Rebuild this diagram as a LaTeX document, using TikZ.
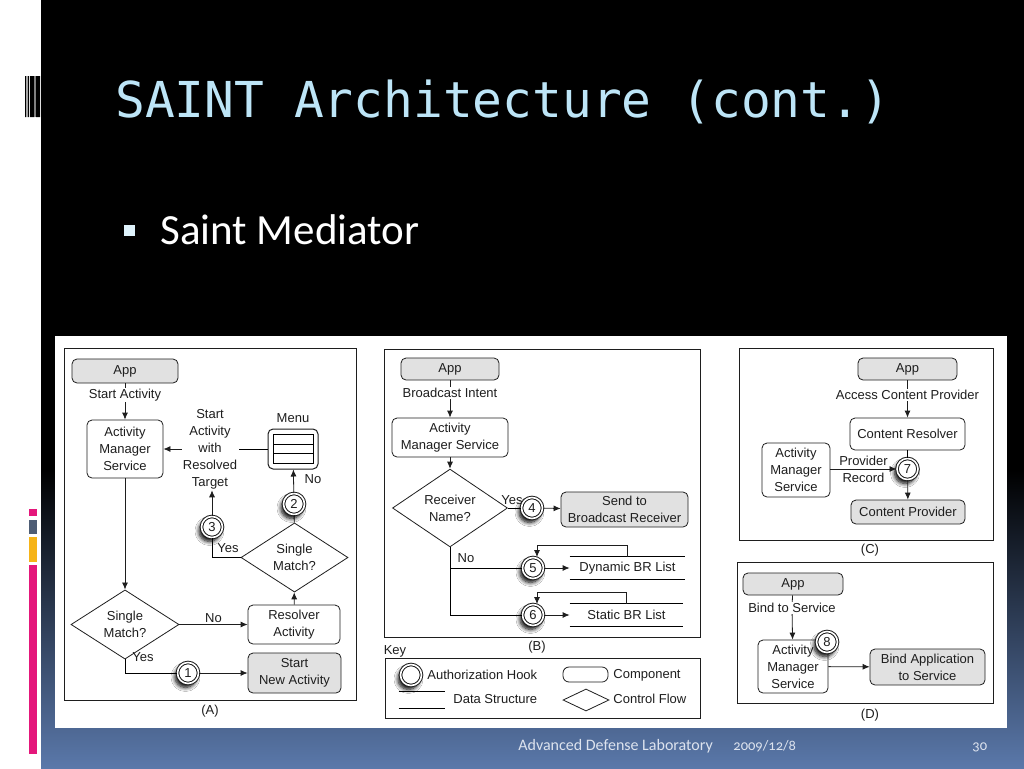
\documentclass[tikz,border=0pt]{standalone}
\usepackage{fontspec}
\setmainfont{Liberation Sans}
\newfontfamily\slidefont{Carlito}
\newfontfamily\titlefont{DejaVu Sans Mono}
\usetikzlibrary{arrows.meta,shapes.geometric,shadows.blur}
\definecolor{titleblue}{HTML}{BDE5F7}
\definecolor{footblue}{HTML}{5A78AA}
\definecolor{foottext}{HTML}{DDE3EE}
\definecolor{barpink}{HTML}{E4177B}
\definecolor{bargray}{HTML}{4E5D75}
\definecolor{baramber}{HTML}{F6B418}
\definecolor{boxgray}{HTML}{E1E1E1}
\definecolor{ink}{HTML}{1E1E1E}
\begin{document}
\begin{tikzpicture}[x=1pt, y=-1pt, line width=0.8pt,
  every node/.style={font=\fontsize{13}{17}\selectfont, text=ink, inner sep=1pt},
  dims/.style 2 args={minimum width=#1pt, minimum height=#2pt},
  comp/.style={draw=ink, rounded corners=5pt, align=center},
  app/.style={comp, fill=boxgray},
  decide/.style={draw=ink, diamond, inner sep=0pt, align=center},
  hook/.style={circle, draw=ink, fill=white, line width=1pt, double=white, double distance=1.6pt, minimum size=21pt, inner sep=0pt,
    blur shadow={shadow xshift=-2.5pt, shadow yshift=-4pt, shadow blur radius=4pt, shadow blur steps=8, shadow opacity=100}},
  flow/.style={draw=ink, -{Latex[length=7pt,width=6pt]}},
  panel/.style={draw=ink, line width=1pt},
  foot/.style={anchor=base west, inner sep=0pt, text=foottext, font=\slidefont\fontsize{14.5}{16}\selectfont}]
\useasboundingbox (0,0) rectangle (1024,768);

% slide background
\fill[white] (0,0) rectangle (1024,768);
\fill[black] (41,0) rectangle (1024,768);
\shade[top color=black, bottom color=footblue] (41,470) rectangle (1024,768);
\fill[black] (25,76) rectangle (26.3,117) (27.7,76) rectangle (29,117) (30,76) rectangle (34.3,117) (36,76) rectangle (40,117);
\fill[gray] (34.3,76) rectangle (36,117);
\fill[barpink] (28.7,509) rectangle (36.7,516);
\fill[bargray] (28.7,520) rectangle (36.7,534);
\fill[baramber] (28.7,537) rectangle (36.7,562);
\fill[barpink] (28.7,565) rectangle (36.7,754);

\node[anchor=base west, inner sep=0pt, text=titleblue, font=\titlefont\fontsize{49.5}{52}\selectfont] (title) at (115,117) {SAINT Architecture (cont.)};
\node[fill=titleblue!50!white, minimum size=11pt, inner sep=0pt] (bullet) at (129.5,230) {};
\node[anchor=base west, inner sep=0pt, text=white, font=\slidefont\fontsize{43}{46}\selectfont] (item) at (160,244) {Saint Mediator};

\fill[white] (55,336) rectangle (1007,728);

% (A) start activity
\draw[panel] (64,348) rectangle (356,700);
\node (capA) at (210,711) {(A)};
\node[app, dims={106}{24}] (appA) at (125,371) {App};
\node (startA) at (125,395) {Start Activity};
\node[comp, dims={76}{58}] (amsA) at (125,449) {Activity\\Manager\\Service};
\node[decide, dims={108}{51}] (decA1) at (125,624.5) {Single\\Match?};
\node[comp, dims={92}{39}] (resA) at (294,624.5) {Resolver\\Activity};
\node[app, dims={93}{40}] (newA) at (294.5,673) {Start\\New Activity};
\node[decide, dims={107}{49}] (decA2) at (294.5,557.5) {Single\\Match?};
\node[comp, dims={50}{40}, line width=1pt] (menu) at (293,449) {};
\draw[line width=1pt] ([shift={(-20,-14.5)}]menu.center) rectangle ([shift={(20,14.5)}]menu.center);
\foreach \r in {-4.8,4.8}
  \draw ([shift={(-20,\r)}]menu.center) -- ([shift={(20,\r)}]menu.center);
\node (menuA) at (293,418) {Menu};
\node[align=center] (resolved) at (210,449) {Start\\Activity\\with\\Resolved\\Target};
\node[hook] (h1) at (188,673) {1};
\node[hook] (h2) at (294,504) {2};
\node[hook] (h3) at (212,527) {3};
\draw[flow] (appA) -- (startA) -- (amsA);
\draw[flow] (amsA) -- (decA1);
\draw[flow] (decA1) -- node[above] {No} (resA);
\draw (decA1.south) |- (h1);
\draw[flow] (h1) -- (newA);
\node (yesA1) at (143,657) {Yes};
\draw[flow] (resA) -- (decA2);
\draw (decA2) -- (h2);
\draw[flow] (h2) -- (menu);
\node (noA2) at (313,479) {No};
\draw (menu) -- (resolved);
\draw[flow] (resolved) -- (amsA);
\draw (decA2) -| (h3);
\draw[flow] (h3) -- (h3 |- resolved.south);
\node (yesA2) at (228,548) {Yes};

% (B) broadcast intent
\draw[panel] (384,349) rectangle (700,637);
\node (capB) at (537,647) {(B)};
\node[app, dims={98}{22}] (appB) at (450,369) {App};
\node (bcast) at (450,393) {Broadcast Intent};
\node[comp, dims={116}{39}] (amsB) at (450,437.5) {Activity\\Manager Service};
\node[decide, dims={115}{60}] (decB) at (450,508) {Receiver\\Name?};
\node[app, dims={127}{35}] (send) at (624.5,509.5) {Send to\\Broadcast Receiver};
\node[dims={115}{22}] (dyn) at (627.5,568) {Dynamic BR List};
\node[dims={113}{22}] (stat) at (626.5,615) {Static BR List};
\draw (dyn.north west) -- (dyn.north east) (dyn.south west) -- (dyn.south east);
\draw (stat.north west) -- (stat.north east) (stat.south west) -- (stat.south east);
\node[hook] (h4) at (532,508) {4};
\node[hook] (h5) at (533,568) {5};
\node[hook] (h6) at (533,615) {6};
\draw[flow] (appB) -- (bcast) -- (amsB);
\draw[flow] (amsB) -- (decB);
\draw (decB) -- (h4);
\draw[flow] (h4) -- (send);
\node (yesB) at (512,500) {Yes};
\draw (decB.south) |- (h6);
\draw (decB.south |- h5) -- (h5);
\node (noB) at (466,558) {No};
\draw[flow] (h5) -- (dyn);
\draw[flow] (h6) -- (stat);
\draw[flow] (dyn.north) -- ++(0,-11) -| ([xshift=4pt]h5.north);
\draw[flow] (stat.north) -- ++(0,-11) -| ([xshift=4pt]h6.north);

% key
\node (key) at (395,651) {Key};
\draw[panel] (385,658) rectangle (700,718);
\node[hook] (hk) at (411,675) {};
\node[anchor=west] (hkT) at (426,675) {Authorization Hook};
\node[comp, dims={45}{15}, rounded corners=6pt] (ck) at (585.5,674.5) {};
\node[anchor=west] (ckT) at (612,675) {Component};
\node[dims={46}{16}] (dk) at (422,700) {};
\draw (dk.north west) -- (dk.north east) (dk.south west) -- (dk.south east);
\node[anchor=west] (dkT) at (452,699) {Data Structure};
\node[decide, dims={46}{22}] (fk) at (586,700) {};
\node[anchor=west] (fkT) at (612,699) {Control Flow};

% (C) content provider
\draw[panel] (739,348) rectangle (993,540);
\node (capC) at (870,550) {(C)};
\node[app, dims={99}{22}] (appC) at (907.5,369) {App};
\node (access) at (907.5,395) {Access Content Provider};
\node[comp, dims={115}{32}] (resC) at (907.5,434) {Content Resolver};
\node[app, dims={114}{24}] (prov) at (908,512) {Content Provider};
\node[comp, dims={68}{54}] (amsC) at (796,470) {Activity\\Manager\\Service};
\node[hook] (h7) at (907.5,469) {7};
\draw[flow] (appC) -- (access) -- (resC);
\draw (resC) -- (h7);
\draw[flow] (h7) -- (prov);
\draw[flow] (amsC.east |- h7) -- node[align=center, inner sep=0pt] {Provider\\Record} (h7);

% (D) bind to service
\draw[panel] (737,562) rectangle (993,703);
\node (capD) at (870,715) {(D)};
\node[app, dims={100}{22}] (appD) at (793,584) {App};
\node (bind) at (792,608) {Bind to Service};
\node[comp, dims={70}{53}] (amsD) at (793,666.5) {Activity\\Manager\\Service};
\node[app, dims={115}{36}] (bindApp) at (927.5,667) {Bind Application\\to Service};
\node[hook] (h8) at (827,642) {8};
\draw[flow] (appD) -- (bind) -- (amsD);
\draw[flow] (amsD) -- (bindApp);

% footer
\node[foot, font=\slidefont\fontsize{16}{18}\selectfont] (lab) at (518,750) {Advanced Defense Laboratory};
\node[foot] (date) at (733,750) {\addfontfeatures{Numbers=OldStyle}2009/12/8};
\node[foot] (page) at (972,750) {\addfontfeatures{Numbers=OldStyle}30};
\end{tikzpicture}
\end{document}
